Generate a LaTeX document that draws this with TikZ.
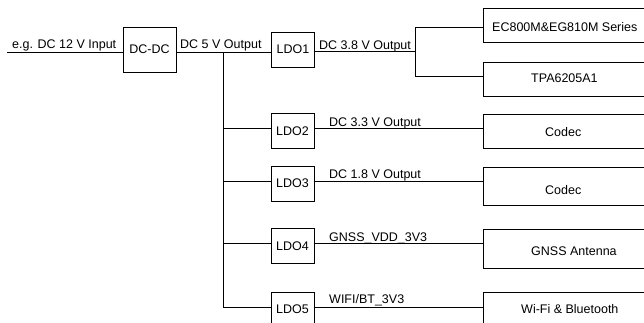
\documentclass[tikz,border=0pt]{standalone}
\usepackage{fontspec}
\setmainfont{Liberation Sans}
\begin{document}
\begin{tikzpicture}[x=1pt,y=-1pt,
  every node/.style={font=\fontsize{12.5}{15}\selectfont},
  box/.style={draw=black,line width=1pt,inner sep=0pt,outer sep=0pt,rectangle},
  ldobox/.style={box,minimum width=43pt,minimum height=35pt},
  rbox/.style={box,minimum width=170pt},
  lbl/.style={anchor=base west,inner sep=0pt},
  wire/.style={line width=1pt,draw=black}]
\useasboundingbox (0,0) rectangle (644,322);
\clip (0,0) rectangle (644,322);
% boxes
\node[box,minimum width=53pt,minimum height=45pt] (dcdc) at (149.5,49.5) {DC-DC};
\node[ldobox] (ldo1) at (293,49.5) {LDO1};
\node[ldobox] (ldo2) at (292.5,131) {LDO2};
\node[ldobox] (ldo3) at (292.5,183.5) {LDO3};
\node[ldobox] (ldo4) at (292.5,246) {LDO4};
\node[ldobox] (ldo5) at (292.5,309.5) {LDO5};
\node[rbox,minimum height=34pt] (ec) at (568,25) {};
\node[rbox,minimum height=34pt] (tpa) at (568,79) {};
\node[rbox,minimum height=34pt] (codec1) at (568,131) {};
\node[rbox,minimum height=38pt] (codec2) at (568,186) {};
\node[rbox,minimum height=39pt] (gnss) at (568,248.5) {};
\node[rbox,minimum height=40pt] (wifi) at (568,312) {};
% box texts
\node[lbl] (tec) at (492,31) {EC800M\&EG810M Series};
\node[lbl] (ttpa) at (531,82) {TPA6205A1};
\node[lbl] (tc1) at (545,136) {Codec};
\node[lbl] (tc2) at (545,194) {Codec};
\node[lbl] (tgn) at (531,255) {GNSS Antenna};
\node[lbl] (twf) at (521,313) {Wi-Fi \& Bluetooth};
% coordinates
\coordinate (in) at (7,52);
\coordinate (b0) at (223,52);
\coordinate (b2) at (223,128);
\coordinate (b3) at (223,181);
\coordinate (b4) at (223,243);
\coordinate (b5) at (223,307);
\coordinate (s1) at (415,51);
\coordinate (s1t) at (415,27);
\coordinate (s1b) at (415,76);
% wires
\draw[wire] (in) -- (in -| dcdc.west);
\draw[wire] (dcdc.east |- b0) -- (ldo1.west |- b0);
\draw[wire] (b0) -- (b5);
\draw[wire] (ldo1.east |- s1) -- (s1);
\draw[wire] (s1t) -- (s1b);
\draw[wire] (s1t) -- (s1t -| ec.west);
\draw[wire] (s1b) -- (s1b -| tpa.west);
\draw[wire] (b2) -- (b2 -| ldo2.west);
\draw[wire] (b3) -- (b3 -| ldo3.west);
\draw[wire] (b4) -- (b4 -| ldo4.west);
\draw[wire] (b5) -- (b5 -| ldo5.west);
\draw[wire] (ldo2.east |- b2) -- (codec1.west |- b2);
\draw[wire] (ldo3.east |- b3) -- (codec2.west |- b3);
\draw[wire] (ldo4.east |- b4) -- (gnss.west |- b4);
\draw[wire] (ldo5.east |- b5) -- (wifi.west |- b5);
% wire labels
\node[lbl] (l0) at (12,48) {e.g. DC 12 V Input};
\node[lbl] (l1) at (180,48) {DC 5 V Output};
\node[lbl] (l2) at (319,49) {DC 3.8 V Output};
\node[lbl] (l3) at (329,126) {DC 3.3 V Output};
\node[lbl] (l4) at (329,178) {DC 1.8 V Output};
\node[lbl] (l5) at (329,241) {GNSS\_VDD\_3V3};
\node[lbl] (l6) at (329,303) {WIFI/BT\_3V3};
\end{tikzpicture}
\end{document}
